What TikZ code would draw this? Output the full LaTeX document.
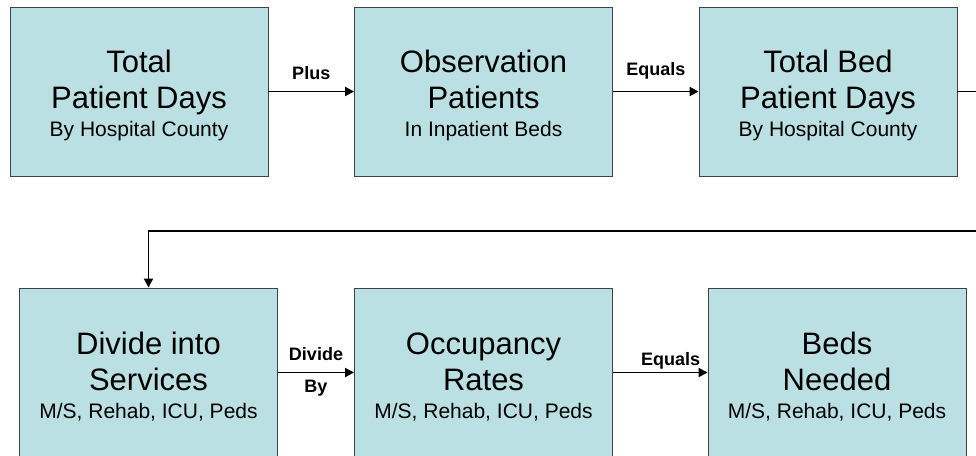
\documentclass[tikz,border=0pt]{standalone}
\usepackage{fontspec}
\setmainfont{Liberation Sans}
\usepackage{xcolor}
\usetikzlibrary{arrows.meta,positioning}

\definecolor{stagefill}{RGB}{187,224,227}
\newcommand{\bigtxt}{\fontsize{31}{36}\selectfont}
\newcommand{\subtxt}{\fontsize{21}{25}\selectfont}
\newcommand{\toppad}{\rule{0pt}{31pt}}

\begin{document}
\begin{tikzpicture}[x=1pt, y=-1pt,
    stage/.style={draw=black!75, line width=0.9pt, fill=stagefill, minimum width=258pt, minimum height=169pt, inner sep=0pt, align=center, font=\bigtxt},
    flow/.style={line width=1.9pt, -{Triangle[length=9pt,width=9pt]}},
    lbl/.style={font=\fontsize{18}{21}\selectfont\bfseries, inner sep=1pt}]
    \useasboundingbox (0,0) rectangle (976,455);
    \clip (0,0) rectangle (976,455);

    % Top row
    \node[stage] (tot) at (139,91.5) {\toppad Total\\Patient Days\\[-8pt]{\subtxt By Hospital County}};
    \node[stage] (obs) at (483.5,91.5) {\toppad Observation\\Patients\\[-8pt]{\subtxt In Inpatient Beds}};
    \node[stage] (bed) at (828,91.5) {\toppad Total Bed\\Patient Days\\[-8pt]{\subtxt By Hospital County}};

    % Bottom row
    \node[stage] (div) at (148.5,372.5) {\toppad Divide into\\Services\\[-8pt]{\subtxt M/S, Rehab, ICU, Peds}};
    \node[stage] (occ) at (483.5,372.5) {\toppad Occupancy\\Rates\\[-8pt]{\subtxt M/S, Rehab, ICU, Peds}};
    \node[stage] (need) at (837,372.5) {\toppad Beds\\Needed\\[-8pt]{\subtxt M/S, Rehab, ICU, Peds}};

    % Connect nodes
    \draw[flow] (tot) -- node[lbl, above=10pt] {Plus} (obs);
    \draw[flow] (obs) -- node[lbl, above=10pt] {Equals} (bed);

    \coordinate (rt) at (1000,91.5);
    \coordinate (rb) at (1000,231);
    \draw[flow] (bed) -- (rt) -- (rb) -| (div);

    \draw[flow] (div) -- node[lbl, above=10pt] {Divide} node[lbl, below=6pt] {By} (occ);
    \draw[flow] (occ) -- node[lbl, pos=0.9, above left=1pt and -4pt] {Equals} (need);
\end{tikzpicture}
\end{document}
